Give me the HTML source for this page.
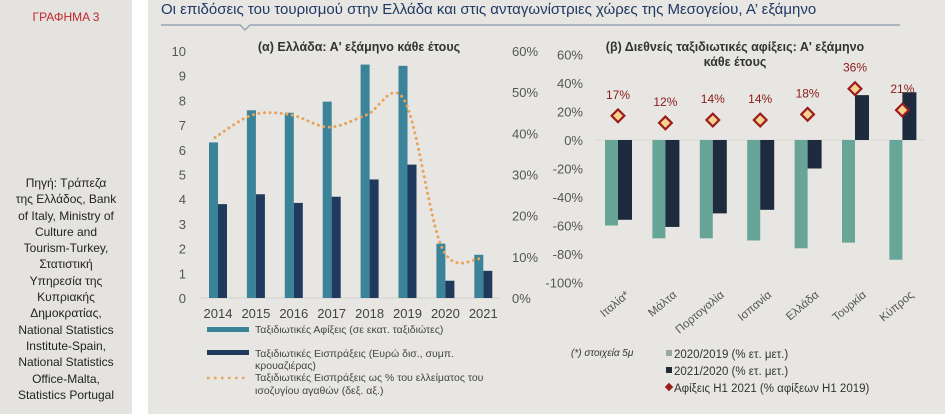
<!DOCTYPE html>
<html><head><meta charset="utf-8"><style>
html,body{margin:0;padding:0;width:945px;height:414px;overflow:hidden;background:#fff;font-family:"Liberation Sans","Noto Sans CJK SC",sans-serif;}
#side{position:absolute;left:0;top:0;width:132px;height:414px;background:#e4e3df;}
#main{position:absolute;left:148px;top:0;width:797px;height:414px;background:#e7e6e2;}
#lbl{position:absolute;left:0;width:132px;top:10px;text-align:center;color:#c0272d;font-size:12px;}
#src{position:absolute;left:0;width:132px;top:175px;text-align:center;color:#222;font-size:12px;line-height:16.3px;}
svg{position:absolute;left:0;top:0;}
</style></head><body>
<div id="side">
<div id="lbl">ΓΡΑΦΗΜΑ 3</div>
<div id="src">Πηγή: Τράπεζα<br>της Ελλάδος, Bank<br>of Italy, Ministry of<br>Culture and<br>Tourism-Turkey,<br>Στατιστική<br>Υπηρεσία της<br>Κυπριακής<br>Δημοκρατίας,<br>National Statistics<br>Institute-Spain,<br>National Statistics<br>Office-Malta,<br>Statistics Portugal</div>
</div>
<div id="main"></div>
<svg id="svg" width="945" height="414" xmlns="http://www.w3.org/2000/svg" font-family="Liberation Sans, sans-serif">
<text x="161" y="14" font-size="15" fill="#1f3864">Οι επιδόσεις του τουρισμού στην Ελλάδα και στις ανταγωνίστριες χώρες της Μεσογείου, Α’ εξάμηνο</text>
<path d="M161 25 H240 L245 30 L250 25 H900" fill="none" stroke="#8898aa" stroke-width="1.2"/>
<text x="359" y="51" font-size="12.5" font-weight="bold" fill="#333" text-anchor="middle">(α) Ελλάδα: Α' εξάμηνο κάθε έτους</text>
<text x="735" y="51" font-size="12.5" font-weight="bold" fill="#333" text-anchor="middle">(β) Διεθνείς ταξιδιωτικές αφίξεις: Α' εξάμηνο</text>
<text x="735" y="66" font-size="12.5" font-weight="bold" fill="#333" text-anchor="middle">κάθε έτους</text>
<g id="L"></g><g id="R"></g>
<rect x="207" y="327" width="42" height="5" fill="#3a8399"/>
<text x="255" y="333" font-size="10.5" fill="#444">Ταξιδιωτικές  Αφίξεις (σε εκατ. ταξιδιώτες)</text>
<rect x="207" y="350" width="42" height="5" fill="#1f3a5c"/>
<text x="255" y="357" font-size="10.5" fill="#444">Ταξιδιωτικές  Εισπράξεις (Ευρώ δισ., συμπ.</text>
<text x="255" y="369" font-size="10.5" fill="#444">κρουαζιέρας)</text>
<line x1="207" y1="378" x2="249" y2="378" stroke="#e9a45c" stroke-width="2.5" stroke-dasharray="2.5,4.5"/>
<text x="255" y="381" font-size="10.5" fill="#444">Ταξιδιωτικές  Εισπράξεις ως  % του ελλείματος  του</text>
<text x="255" y="394" font-size="10.5" fill="#444">ισοζυγίου  αγαθών  (δεξ. αξ.)</text>
<text x="571" y="356" font-size="10" font-style="italic" fill="#333">(*) στοιχεία  5μ</text>
<rect x="666" y="350" width="6" height="6" fill="#9aa7a3"/>
<text x="674" y="358" font-size="11.5" fill="#333">2020/2019 (% ετ. μετ.)</text>
<rect x="666" y="367" width="6" height="6" fill="#222a36"/>
<text x="674" y="375" font-size="11.5" fill="#333">2021/2020 (% ετ. μετ.)</text>
<rect x="666" y="384" width="6" height="6" fill="#9b1c1c" transform="rotate(45 669 387)"/>
<text x="674" y="392" font-size="11.5" fill="#333">Αφίξεις H1 2021 (% αφίξεων H1 2019)</text>
</svg>
<script>
const years=["2014","2015","2016","2017","2018","2019","2020","2021"];
const arrivals=[6.3,7.6,7.5,7.95,9.45,9.4,2.2,1.75];
const receipts=[3.8,4.2,3.85,4.1,4.8,5.4,0.7,1.1];
const ratioPct=[39,44.5,44.5,41.5,44.5,48,12,9.5];
const leftTicks=[0,1,2,3,4,5,6,7,8,9,10];
const rightTicks=[0,10,20,30,40,50,60];
const countries=["Ιταλία*","Μάλτα","Πορτογαλία","Ισπανία","Ελλάδα","Τουρκία","Κύπρος"];
const chg2020=[-60,-69,-69,-70.5,-76,-72,-84];
const chg2021=[-56,-61,-51.5,-49,-20,31.5,33.5];
const h1share=[17,12,14,14,18,36,21];
const pctTicks=[60,40,20,0,-20,-40,-60,-80,-100];
const NS="http://www.w3.org/2000/svg";
function mk(p,t,a){const e=document.createElementNS(NS,t);for(const k in a)e.setAttribute(k,a[k]);p.appendChild(e);return e;}
const L=document.getElementById('L');
const ly=v=>298-v*24.7, ry=v=>298-v*(247/60), lx=i=>218+i*37.9;
mk(L,'line',{x1:200,y1:298,x2:500,y2:298,stroke:'#d0d0cc'});
leftTicks.forEach(t=>{const e=mk(L,'text',{x:186,y:ly(t)+5,'font-size':13,fill:'#555','text-anchor':'end'});e.textContent=t;

});
rightTicks.forEach(t=>{const e=mk(L,'text',{x:512,y:ry(t)+5,'font-size':13,fill:'#555'});e.textContent=t+'%';

});
years.forEach((y,i)=>{
const b1=mk(L,'rect',{x:lx(i)-9,y:ly(arrivals[i]),width:9,height:arrivals[i]*24.7,fill:'#3a8399'});


const b2=mk(L,'rect',{x:lx(i),y:ly(receipts[i]),width:9,height:receipts[i]*24.7,fill:'#1f3a5c'});


const t=mk(L,'text',{x:lx(i),y:318,'font-size':13,fill:'#444','text-anchor':'middle'});t.textContent=y;


});
const pts=ratioPct.map((v,i)=>[lx(i)-3,ry(v)]);
let d='M'+pts[0].join(' ');
for(let i=0;i<pts.length-1;i++){const p0=pts[i-1]||pts[i],p1=pts[i],p2=pts[i+1],p3=pts[i+2]||p2;
d+=` C${p1[0]+(p2[0]-p0[0])/6} ${p1[1]+(p2[1]-p0[1])/6} ${p2[0]-(p3[0]-p1[0])/6} ${p2[1]-(p3[1]-p1[1])/6} ${p2[0]} ${p2[1]}`;}
const ln=mk(L,'path',{d:d,fill:'none',stroke:'#e9a45c','stroke-width':3,'stroke-linecap':'round','stroke-dasharray':'0.1,5.5'});


const R=document.getElementById('R');
const py=v=>140-v*1.425, cx=i=>618+i*47.4;
mk(R,'line',{x1:595,y1:140,x2:925,y2:140,stroke:'#d8d8d4'});
pctTicks.forEach(t=>{const e=mk(R,'text',{x:583,y:py(t)+5,'font-size':13,fill:'#555','text-anchor':'end'});e.textContent=t+'%';

});
countries.forEach((c,i)=>{
const a=chg2020[i],b=chg2021[i];
const g=mk(R,'rect',{x:cx(i)-13,y:Math.min(py(a),140),width:13,height:Math.abs(a)*1.425,fill:'#66a597'});


const n=mk(R,'rect',{x:cx(i),y:Math.min(py(b),140),width:14,height:Math.abs(b)*1.425,fill:'#1e2b3f'});


const dy=py(h1share[i]);
const dm=mk(R,'rect',{x:cx(i)-4.5,y:dy-4.5,width:9,height:9,fill:'#f5d38e',stroke:'#9b1c1c','stroke-width':2.2,transform:`rotate(45 ${cx(i)} ${dy})`});


const lt=mk(R,'text',{x:cx(i),y:dy-17,'font-size':12,fill:'#8b1a1a','text-anchor':'middle'});lt.textContent=h1share[i]+'%';


const ct=mk(R,'text',{x:cx(i)+12,y:296,'font-size':11.5,fill:'#555','text-anchor':'end',transform:`rotate(-40 ${cx(i)+12} 296)`});ct.textContent=c;


});
</script>
</body></html>
